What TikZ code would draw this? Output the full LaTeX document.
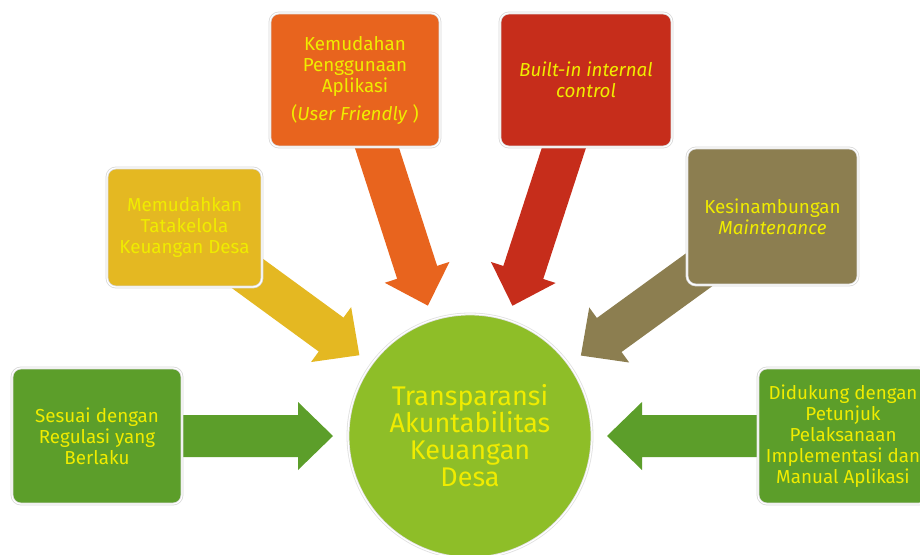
\documentclass[tikz,border=0pt]{standalone}
\usepackage{fontspec}
\setmainfont{Fira Sans}
\usetikzlibrary{calc}
\pgfdeclarelayer{background}
\pgfsetlayers{background,main}
\definecolor{cgreen}{RGB}{92,158,42}
\definecolor{clime}{RGB}{142,190,40}
\definecolor{cyel}{RGB}{228,184,34}
\definecolor{corange}{RGB}{232,100,30}
\definecolor{cred}{RGB}{198,45,27}
\definecolor{colive}{RGB}{140,126,80}
\definecolor{ctext}{RGB}{240,236,0}
\newcommand\blockarr[3]{%
  \coordinate (hb) at ($(#2)!35pt!(#1)$);
  \fill[#3] ($(#1)!21pt!90:(#2)$) -- ($(hb)!21pt!90:(#2)$) -- ($(hb)!34pt!90:(#2)$) -- (#2)
    -- ($(hb)!34pt!-90:(#2)$) -- ($(hb)!21pt!-90:(#2)$) -- ($(#1)!21pt!-90:(#2)$) -- cycle;
}
\begin{document}
\begin{tikzpicture}[x=1pt,y=-1pt,
  box/.style={rounded corners=9pt, draw=black!15, line width=0.8pt, double=white,
    double distance=1.2pt, text=ctext, align=center,
    font=\fontsize{18.8}{21}\selectfont, inner sep=0pt},
  hub/.style={circle, fill=clime, draw=black!12, line width=0.8pt, double=white,
    double distance=1.2pt, text=ctext, align=center,
    font=\fontsize{27}{27}\selectfont, minimum size=244pt, inner sep=0pt}]
\useasboundingbox (0,0) rectangle (920,554);
\clip (0,0) rectangle (920,554);

\node[hub] (C) at (470,436) {Transparansi\\Akuntabilitas\\Keuangan\\Desa};

\node[box, fill=cgreen, minimum width=170pt, minimum height=136pt] (b1) at (97,436)
  {Sesuai dengan\\Regulasi yang\\Berlaku};
\node[box, fill=cyel, minimum width=155pt, minimum height=119pt] (b2) at (184.5,227.5)
  {Memudahkan\\Tatakelola\\Keuangan Desa};
\node[box, fill=corange, minimum width=170pt, minimum height=134pt] (b3) at (355,80)
  {Kemudahan\\Penggunaan\\Aplikasi\\[7pt](\textit{User Friendly} )};
\node[box, fill=cred, minimum width=172pt, minimum height=134pt] (b4) at (586,80)
  {\textit{Built-in internal}\\\textit{control}};
\node[box, fill=colive, minimum width=171pt, minimum height=137pt] (b5) at (772.5,216.5)
  {Kesinambungan\\\textit{Maintenance}};
\node[box, fill=cgreen, minimum width=170pt, minimum height=136pt] (b6) at (843,436)
  {Didukung dengan\\Petunjuk\\Pelaksanaan\\Implementasi dan\\Manual Aplikasi};

\foreach \i in {1,...,6}{
  \coordinate (t\i) at ($(C.center)!137pt!(b\i.center)$);
}
\begin{pgfonlayer}{background}
  \fill[white] (0,0) rectangle (920,554);
  \blockarr{b1.center}{t1}{cgreen}
  \blockarr{b2.center}{t2}{cyel}
  \blockarr{b3.center}{t3}{corange}
  \blockarr{b4.center}{t4}{cred}
  \blockarr{b5.center}{t5}{colive}
  \blockarr{b6.center}{t6}{cgreen}
\end{pgfonlayer}
\end{tikzpicture}
\end{document}
